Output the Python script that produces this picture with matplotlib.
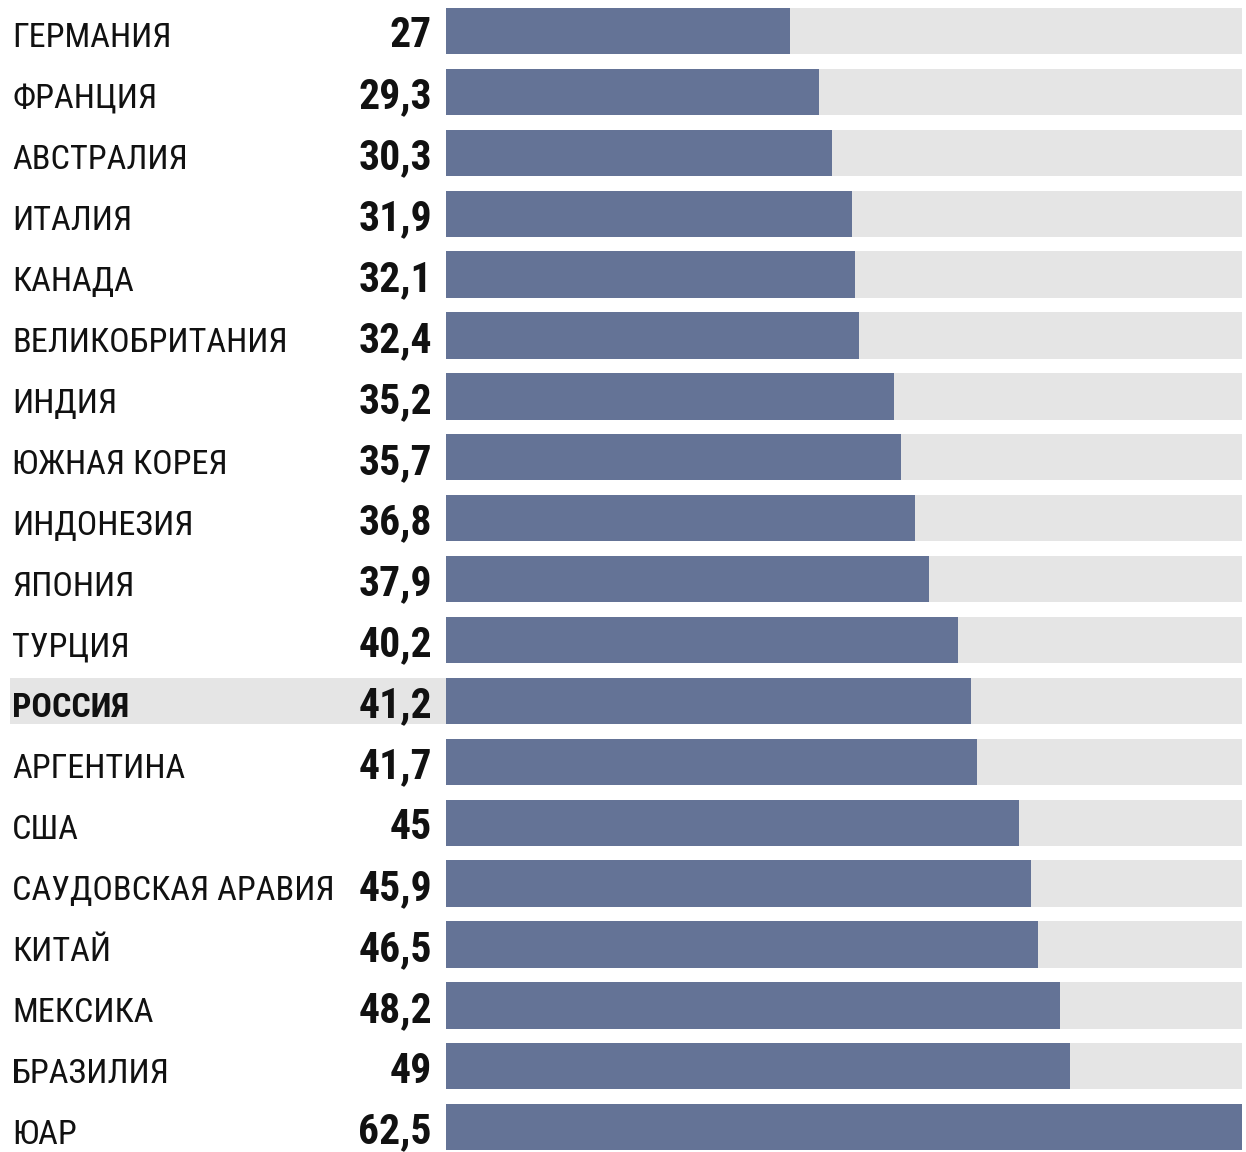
import matplotlib
matplotlib.use("Agg")
import matplotlib.pyplot as plt
from matplotlib import font_manager
from matplotlib.patches import Rectangle
from matplotlib.transforms import blended_transform_factory

countries = ["ГЕРМАНИЯ", "ФРАНЦИЯ", "АВСТРАЛИЯ", "ИТАЛИЯ", "КАНАДА",
             "ВЕЛИКОБРИТАНИЯ", "ИНДИЯ", "ЮЖНАЯ КОРЕЯ", "ИНДОНЕЗИЯ", "ЯПОНИЯ",
             "ТУРЦИЯ", "РОССИЯ", "АРГЕНТИНА", "США", "САУДОВСКАЯ АРАВИЯ",
             "КИТАЙ", "МЕКСИКА", "БРАЗИЛИЯ", "ЮАР"]
values = [27, 29.3, 30.3, 31.9, 32.1, 32.4, 35.2, 35.7, 36.8, 37.9,
          40.2, 41.2, 41.7, 45, 45.9, 46.5, 48.2, 49, 62.5]
highlight = "РОССИЯ"

# pick a narrow family if one is installed
names = {f.name for f in font_manager.fontManager.ttflist}
family = "DejaVu Sans"
for cand in ["Roboto Condensed", "Liberation Sans Narrow", "DejaVu Sans Condensed", "Roboto"]:
    if cand in names:
        family = cand
        break

W, H = 1246, 1152
fig = plt.figure(figsize=(W / 100, H / 100), dpi=100)
ax = fig.add_axes([446 / W, 0, 796 / W, 1])

top = max(values)
n = len(values)
ys = list(range(n))
ax.barh(ys, [top] * n, height=0.76, color="#e5e5e5")
ax.barh(ys, values, height=0.76, color="#647396")
ax.set_xlim(0, top)
ax.set_ylim((1152 - 31) / 60.9, -31 / 60.9)
ax.axis("off")

# gray band behind the highlighted country label
tr = blended_transform_factory(ax.transAxes, ax.transData)
i_h = countries.index(highlight)
ax.add_patch(Rectangle(((10 - 446) / 796, i_h - 0.38), 436 / 796, 0.76,
                       transform=tr, color="#e5e5e5", clip_on=False, lw=0))

ftr = blended_transform_factory(fig.transFigure, ax.transData)
label_size = 30
value_size = 30
dy = 0.27  # baseline offset below row centre
labels = []
nums = []
for i, (c, v) in enumerate(zip(countries, values)):
    t = ax.text(12 / W, i + dy, c, transform=ftr, ha="left", va="baseline",
                fontsize=label_size, family=family,
                fontweight="bold" if c == highlight else "normal", color="#111111")
    labels.append(t)
    s = f"{v:g}".replace(".", ",")
    nt = ax.text(432 / W, i + dy, s, transform=ftr, ha="right", va="baseline",
                 fontsize=value_size, family=family, fontweight="bold", color="#111111")
    nums.append(nt)

# shrink fonts so the widest label / value fit the space they have in the chart
fig.canvas.draw()
r = fig.canvas.get_renderer()
wl = max(t.get_window_extent(r).width for t in labels)
wn = max(t.get_window_extent(r).width for t in nums)
ls = label_size * min(1.0, 321 / wl)
ns = value_size * min(1.0, 76 / wn)
for t in labels:
    t.set_fontsize(ls)
for t in nums:
    t.set_fontsize(ns)

fig.savefig("out.png", dpi=100)
